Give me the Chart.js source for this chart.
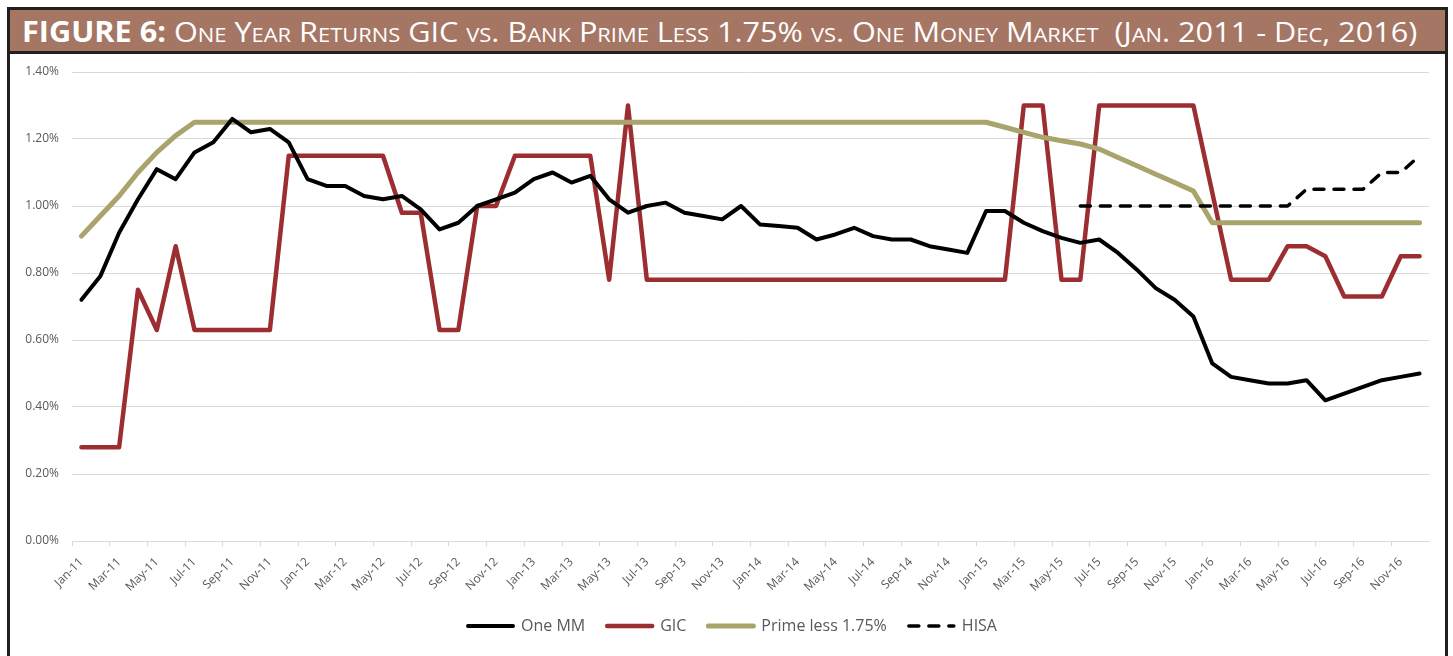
<!DOCTYPE html>
<html>
<head>
<meta charset="utf-8">
<script src="https://cdn.jsdelivr.net/npm/chart.js@4.4.1/dist/chart.umd.min.js"></script>
<style>
  html, body { margin: 0; padding: 0; background: #fff; }
  #wrap { position: relative; width: 1453px; height: 656px; overflow: hidden; }
  #chart { position: absolute; left: 0; top: 0; }
  #titleBar {
    position: absolute; left: 7px; top: 7px; width: 1441px; height: 47px;
    box-sizing: border-box; border: 3px solid #231f20; background: #a57664;
    overflow: hidden;
  }
  #titleText {
    position: absolute; left: 12px; top: 2px; white-space: nowrap;
    font-family: "Open Sans", sans-serif; font-size: 28px; color: #fff;
    font-variant: small-caps; transform-origin: 0 0; line-height: 38px;
  }
  #titleText b { font-variant: normal; font-weight: 700; }
  .frame { position: absolute; background: #231f20; }
</style>
</head>
<body>
<div id="wrap">
  <canvas id="chart" width="1453" height="656"></canvas>
  <div class="frame" style="left:7px;top:54px;width:3px;height:602px;"></div>
  <div class="frame" style="left:1445px;top:54px;width:3px;height:602px;"></div>
  <div id="titleBar"><div id="titleText"><b>FIGURE 6:</b> One Year Returns GIC vs. Bank Prime Less 1.75% vs. One Money Market&nbsp; (Jan. 2011 - Dec, 2016)</div></div>
</div>
<script>
  // Category labels
  const months = ['Jan', 'Feb', 'Mar', 'Apr', 'May', 'Jun', 'Jul', 'Aug', 'Sep', 'Oct', 'Nov', 'Dec'];
  const years = ['11', '12', '13', '14', '15', '16'];
  const labels = [];
  years.forEach(y => months.forEach(m => labels.push(m + '-' + y)));

  // Series values (%)
  const oneMM = [
    0.72, 0.79, 0.92, 1.02, 1.11, 1.08, 1.16, 1.19, 1.26, 1.22, 1.23, 1.19,
    1.08, 1.06, 1.06, 1.03, 1.02, 1.03, 0.99, 0.93, 0.95, 1.00, 1.02, 1.04,
    1.08, 1.10, 1.07, 1.09, 1.02, 0.98, 1.00, 1.01, 0.98, 0.97, 0.96, 1.00,
    0.945, 0.94, 0.935, 0.90, 0.915, 0.935, 0.91, 0.90, 0.90, 0.88, 0.87, 0.86,
    0.985, 0.985, 0.95, 0.925, 0.905, 0.89, 0.90, 0.86, 0.81, 0.755, 0.72, 0.67,
    0.53, 0.49, 0.48, 0.47, 0.47, 0.48, 0.42, 0.44, 0.46, 0.48, 0.49, 0.50
  ];
  const gic = [
    0.28, 0.28, 0.28, 0.75, 0.63, 0.88, 0.63, 0.63, 0.63, 0.63, 0.63, 1.15,
    1.15, 1.15, 1.15, 1.15, 1.15, 0.98, 0.98, 0.63, 0.63, 1.00, 1.00, 1.15,
    1.15, 1.15, 1.15, 1.15, 0.78, 1.30, 0.78, 0.78, 0.78, 0.78, 0.78, 0.78,
    0.78, 0.78, 0.78, 0.78, 0.78, 0.78, 0.78, 0.78, 0.78, 0.78, 0.78, 0.78,
    0.78, 0.78, 1.30, 1.30, 0.78, 0.78, 1.30, 1.30, 1.30, 1.30, 1.30, 1.30,
    1.04, 0.78, 0.78, 0.78, 0.88, 0.88, 0.85, 0.73, 0.73, 0.73, 0.85, 0.85
  ];
  const prime = [
    0.91, 0.97, 1.03, 1.10, 1.16, 1.21, 1.25, 1.25, 1.25, 1.25, 1.25, 1.25,
    1.25, 1.25, 1.25, 1.25, 1.25, 1.25, 1.25, 1.25, 1.25, 1.25, 1.25, 1.25,
    1.25, 1.25, 1.25, 1.25, 1.25, 1.25, 1.25, 1.25, 1.25, 1.25, 1.25, 1.25,
    1.25, 1.25, 1.25, 1.25, 1.25, 1.25, 1.25, 1.25, 1.25, 1.25, 1.25, 1.25,
    1.25, 1.235, 1.22, 1.205, 1.195, 1.185, 1.17, 1.145, 1.12, 1.095, 1.07, 1.045,
    0.95, 0.95, 0.95, 0.95, 0.95, 0.95, 0.95, 0.95, 0.95, 0.95, 0.95, 0.95
  ];
  const hisa = [
    null, null, null, null, null, null, null, null, null, null, null, null,
    null, null, null, null, null, null, null, null, null, null, null, null,
    null, null, null, null, null, null, null, null, null, null, null, null,
    null, null, null, null, null, null, null, null, null, null, null, null,
    null, null, null, null, null, 1.00, 1.00, 1.00, 1.00, 1.00, 1.00, 1.00,
    1.00, 1.00, 1.00, 1.00, 1.00, 1.05, 1.05, 1.05, 1.05, 1.10, 1.10, 1.15
  ];

  // Y axis ticks
  const yTicks = [0, 0.2, 0.4, 0.6, 0.8, 1.0, 1.2, 1.4];

  // Fit title text to the bar width
  const title = document.getElementById('titleText');
  title.style.transform = 'scaleX(' + (1395 / title.scrollWidth) + ')';

  const font = "'Open Sans', sans-serif";

  // Nudge the legend a little to the right, like the original
  const legendShift = {
    id: 'legendShift',
    afterLayout(chart) {
      if (chart.legend) {
        chart.legend.left += 12;
        chart.legend.right += 12;
      }
    }
  };

  new Chart(document.getElementById('chart').getContext('2d'), {
    type: 'line',
    data: {
      labels: labels,
      datasets: [
        { label: 'One MM', data: oneMM, borderColor: '#000000', backgroundColor: '#000000', borderWidth: 4, order: 1 },
        { label: 'GIC', data: gic, borderColor: '#9c2e31', backgroundColor: '#9c2e31', borderWidth: 4.5, order: 3 },
        { label: 'Prime less 1.75%', data: prime, borderColor: '#a8a46b', backgroundColor: '#a8a46b', borderWidth: 5, order: 2 },
        { label: 'HISA', data: hisa, borderColor: '#000000', backgroundColor: '#000000', borderWidth: 3.5, borderDash: [10, 10], order: 0 }
      ]
    },
    options: {
      responsive: false,
      animation: false,
      datasets: {
        line: { pointRadius: 0, tension: 0, borderCapStyle: 'round', borderJoinStyle: 'round', spanGaps: false }
      },
      layout: { padding: { left: 12, right: 24, top: 72, bottom: 12 } },
      scales: {
        x: {
          offset: true,
          grid: {
            offset: true,
            drawOnChartArea: false,
            tickLength: 5,
            color: ctx => (ctx.index % 2 === 0 ? '#d9d9d9' : 'rgba(0,0,0,0)')
          },
          border: { color: '#d9d9d9' },
          ticks: {
            autoSkip: false,
            minRotation: 45,
            maxRotation: 45,
            padding: 9,
            color: '#595959',
            font: { family: font, size: 12 },
            callback: function (value, index) {
              return index % 2 === 0 ? labels[index] : '';
            }
          },
          afterFit: function (scale) { scale.height = 55; }
        },
        y: {
          min: 0,
          max: 1.4,
          afterBuildTicks: function (scale) { scale.ticks = yTicks.map(v => ({ value: v })); },
          grid: { color: '#d9d9d9', drawTicks: false },
          border: { display: false },
          ticks: {
            padding: 13,
            color: '#595959',
            font: { family: font, size: 12 },
            callback: v => v.toFixed(2) + '%'
          },
          afterFit: function (scale) { scale.width = 60; }
        }
      },
      plugins: {
        title: { display: false },
        tooltip: { enabled: false },
        legend: {
          position: 'bottom',
          labels: {
            usePointStyle: true,
            pointStyle: 'line',
            pointStyleWidth: 45,
            padding: 22,
            color: '#595959',
            font: { family: font, size: 16 },
            generateLabels: function (chart) {
              const items = Chart.defaults.plugins.legend.labels.generateLabels(chart);
              items.forEach(item => {
                const ds = chart.data.datasets[item.datasetIndex];
                item.lineDash = ds.borderDash || [];
                item.lineCap = 'round';
                item.lineWidth = ds.borderWidth;
                item.strokeStyle = ds.borderColor;
              });
              return items.sort((a, b) => a.datasetIndex - b.datasetIndex);
            }
          }
        }
      }
    },
    plugins: [legendShift]
  });
</script>
</body>
</html>
